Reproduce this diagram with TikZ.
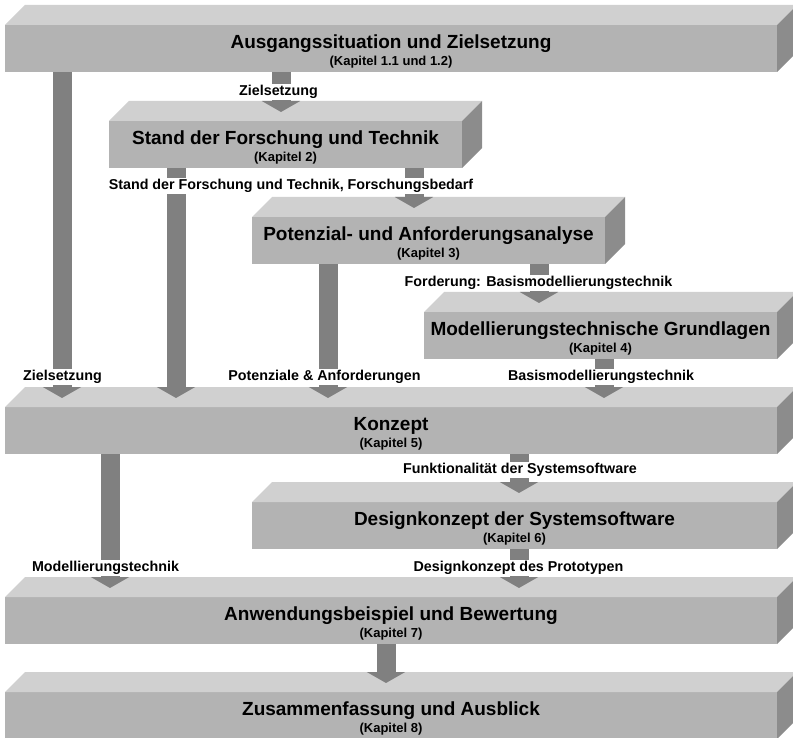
\documentclass[tikz,border=0pt]{standalone}
\usepackage{fontspec}
\setmainfont{Liberation Sans}
\usetikzlibrary{arrows.meta}
\definecolor{frontc}{RGB}{179,179,179}
\definecolor{topc}{RGB}{208,208,208}
\definecolor{sidec}{RGB}{140,140,140}
\definecolor{arrc}{RGB}{128,128,128}
\tikzset{
 frontface/.style={fill=frontc, inner sep=0pt, outer sep=0pt, minimum height=47pt},
 titletext/.style={font=\bfseries\fontsize{19}{20}\selectfont, inner sep=0pt},
 subtext/.style={font=\bfseries\fontsize{13}{14}\selectfont, inner sep=0pt},
 lbl/.style={font=\bfseries\fontsize{14.3}{15}\selectfont, fill=white, inner sep=1pt},
 flow/.style={draw=arrc, line width=19pt, -{Triangle[length=11pt,width=38pt]}},
}
\newcommand\cubebox[6]{%
 \pgfmathsetmacro\cbw{#4-#2}%
 \pgfmathsetmacro\cbx{(#2+#4)/2}%
 \pgfmathsetmacro\cby{#3+23.5}%
 \node[frontface, minimum width=\cbw pt] (#1) at (\cbx,\cby) {};
 \fill[topc] (#1.north west) -- ++(20,-20) -- ([shift={(20pt,20pt)}]#1.north east) -- (#1.north east) -- cycle;
 \fill[sidec] (#1.north east) -- ([shift={(20pt,20pt)}]#1.north east) -- ([shift={(20pt,20pt)}]#1.south east) -- (#1.south east) -- cycle;
 \node[titletext] (#1-title) at ([yshift=5pt]#1.center) {#5};
 \node[subtext] (#1-sub) at ([yshift=-13.5pt]#1.center) {#6};
 \coordinate (#1-tip) at ([yshift=9pt]#1.north);
}
\begin{document}
\begin{tikzpicture}[x=1pt,y=-1pt]
\useasboundingbox (0,0) rectangle (793,738);
\clip (0,0) rectangle (793,738);
\cubebox{b1}{5}{25}{777}{Ausgangssituation und Zielsetzung}{(Kapitel 1.1 und 1.2)}
\cubebox{b2}{109}{121}{462}{Stand der Forschung und Technik}{(Kapitel 2)}
\cubebox{b3}{252}{217}{605}{Potenzial- und Anforderungsanalyse}{(Kapitel 3)}
\cubebox{b4}{424}{312}{777}{Modellierungstechnische Grundlagen}{(Kapitel 4)}
\cubebox{b5}{5}{407}{777}{Konzept}{(Kapitel 5)}
\cubebox{b6}{252}{502}{777}{Designkonzept der Systemsoftware}{(Kapitel 6)}
\cubebox{b7}{5}{597}{777}{Anwendungsbeispiel und Bewertung}{(Kapitel 7)}
\cubebox{b8}{5}{692}{777}{Zusammenfassung und Ausblick}{(Kapitel 8)}
% arrows
\draw[flow] (b1.south -| 281,0) -- (b2-tip -| 281,0);
\draw[flow] (b1.south -| 62,0) -- (b5-tip -| 62,0);
\draw[flow] (b2.south -| 414,0) -- (b3-tip -| 414,0);
\draw[flow] (b2.south -| 176,0) -- (b5-tip -| 176,0);
\draw[flow] (b3.south -| 539,0) -- (b4-tip -| 539,0);
\draw[flow] (b3.south -| 328,0) -- (b5-tip -| 328,0);
\draw[flow] (b4.south -| 604,0) -- (b5-tip -| 604,0);
\draw[flow] (b5.south -| 519,0) -- (b6-tip -| 519,0);
\draw[flow] (b5.south -| 110,0) -- (b7-tip -| 110,0);
\draw[flow] (b6.south -| 519,0) -- (b7-tip -| 519,0);
\draw[flow] (b7.south -| 386,0) -- (b8-tip -| 386,0);
% labels
\node[lbl] (l1) at (278.5,92) {Zielsetzung};
\node[lbl] (l2) at (291,186) {Stand der Forschung und Technik, Forschungsbedarf};
\node[lbl] (l3) at (538.5,283) {Forderung: Basismodellierungstechnik};
\node[lbl] (l4) at (62.5,377) {Zielsetzung};
\node[lbl] (l5) at (324.5,377) {Potenziale \& Anforderungen};
\node[lbl] (l6) at (601,377) {Basismodellierungstechnik};
\node[lbl] (l7) at (520,470) {Funktionalität der Systemsoftware};
\node[lbl] (l8) at (105.5,568) {Modellierungstechnik};
\node[lbl] (l9) at (518.5,568) {Designkonzept des Prototypen};
\end{tikzpicture}
\end{document}
